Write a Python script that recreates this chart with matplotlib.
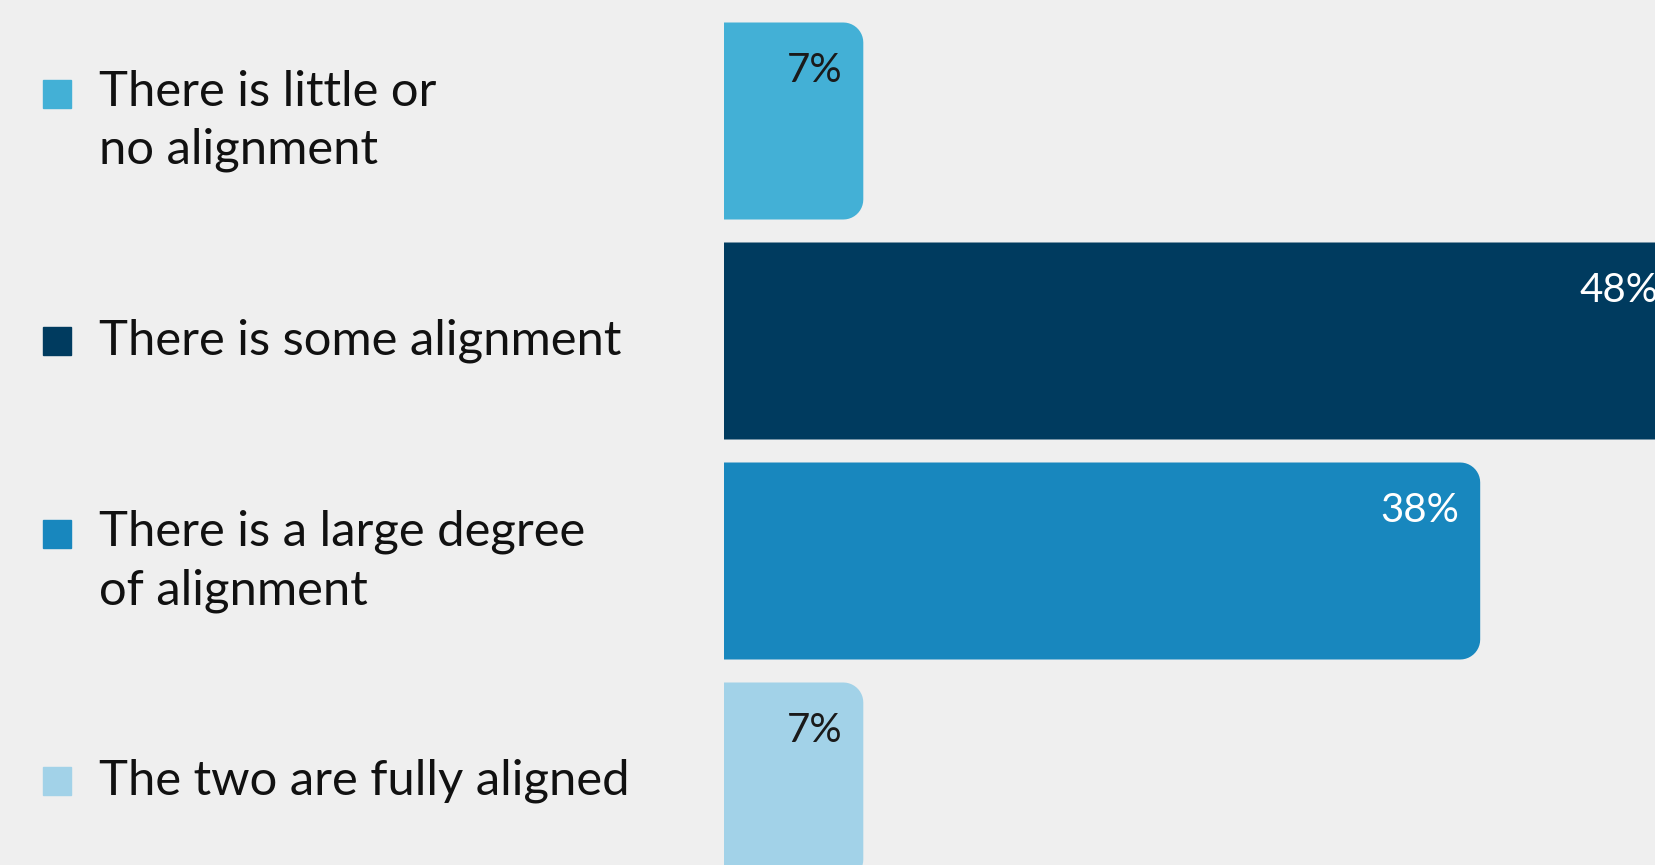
import matplotlib
matplotlib.use("Agg")
import matplotlib.pyplot as plt
from matplotlib.path import Path
from matplotlib.patches import PathPatch
from matplotlib.transforms import blended_transform_factory
import numpy as np

categories = ["There is little or\nno alignment",
              "There is some alignment",
              "There is a large degree\nof alignment",
              "The two are fully aligned"]
values = [7, 48, 38, 7]
colors = ["#43b0d6", "#003b5f", "#1887be", "#a2d2e8"]
label_colors = ["#1a1a1a", "white", "white", "#1a1a1a"]

bg = "#efefef"
plt.rcParams['font.family'] = ['Lato', 'DejaVu Sans']


def rounded_bar(y, w, h, rx, ry):
    # bar with square left side and rounded right corners
    t = np.linspace(0, np.pi / 2, 12)
    top, bot = y - h / 2, y + h / 2
    pts = [(0, bot), (0, top), (w - rx, top)]
    # top right corner (y axis inverted: top is smaller y)
    for a in t:
        pts.append((w - rx + rx * np.sin(a), top + ry - ry * np.cos(a)))
    pts.append((w, bot - ry))
    for a in t:
        pts.append((w - rx + rx * np.cos(a), bot - ry + ry * np.sin(a)))
    pts.append((0, bot))
    codes = [Path.MOVETO] + [Path.LINETO] * (len(pts) - 2) + [Path.CLOSEPOLY]
    return Path(pts, codes)


fig = plt.figure(figsize=(16.55, 8.65), dpi=100, facecolor=bg)
ax = fig.add_axes([724 / 1655, 0, 1 - 724 / 1655, 1])
ax.set_facecolor(bg)

px_per_unit_x = 19.9
xmax = (1655 - 724) / px_per_unit_x
ax.set_xlim(0, xmax)
span = 865 / 220
ax.set_ylim(-0.55 + span, -0.55)

bar_h = 197 / 220
rx = 20 / px_per_unit_x
ry = 20 / 220
for i, (v, c) in enumerate(zip(values, colors)):
    ax.add_patch(PathPatch(rounded_bar(i, v, bar_h, rx, ry), facecolor=c,
                           edgecolor="none", clip_on=True))
    ax.text(v - 21 / px_per_unit_x, i - bar_h / 2 + 0.22, f"{v}%",
            ha="right", va="center", fontsize=29, color=label_colors[i])

ax.axis("off")

# legend-style labels on the left
tr = blended_transform_factory(fig.transFigure, ax.transData)
for i, (cat, c) in enumerate(zip(categories, colors)):
    nlines = cat.count("\n") + 1
    my = i - 0.125 * (nlines - 1)
    ax.plot([56.5 / 1655], [my], marker="s", markersize=20, color=c,
            transform=tr, clip_on=False, linestyle="none")
    ax.text(99 / 1655, i, cat, transform=tr, ha="left", va="center",
            fontsize=35.3, color="#111111", linespacing=1.39)

fig.savefig("out.png", dpi=100, facecolor=bg)
